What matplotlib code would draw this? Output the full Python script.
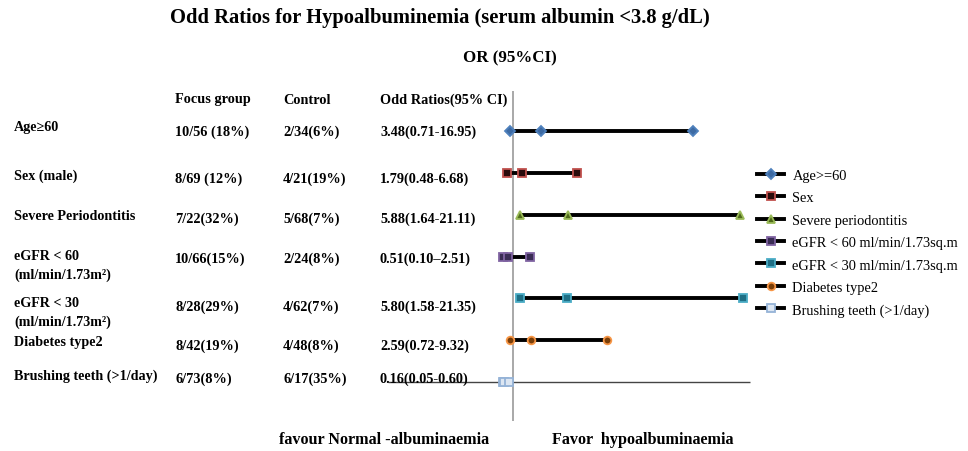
import matplotlib
matplotlib.use('Agg')
import matplotlib.pyplot as plt

# data
factors = ['Age>=60', 'Sex', 'Severe periodontitis', 'eGFR < 60 ml/min/1.73sq.m',
           'eGFR < 30 ml/min/1.73sq.m', 'Diabetes type2', 'Brushing teeth (>1/day)']
row_labels = ['Age\u226560', 'Sex (male)', 'Severe Periodontitis',
              'eGFR < 60\n(ml/min/1.73m\u00b2)', 'eGFR < 30\n(ml/min/1.73m\u00b2)',
              'Diabetes type2', 'Brushing teeth (>1/day)']
focus = ['10/56 (18%)', '8/69 (12%)', '7/22(32%)', '10/66(15%)', '8/28(29%)', '8/42(19%)', '6/73(8%)']
control = ['2/34(6%)', '4/21(19%)', '5/68(7%)', '2/24(8%)', '4/62(7%)', '4/48(8%)', '6/17(35%)']
or_text = ['3.48(0.71-16.95)', '1.79(0.48-6.68)', '5.88(1.64-21.11)', '0.51(0.10\u20132.51)',
           '5.80(1.58-21.35)', '2.59(0.72-9.32)', '0.16(0.05-0.60)']
odds = [3.48, 1.79, 5.88, 0.51, 5.80, 2.59, 0.16]
lower = [0.71, 0.48, 1.64, 0.10, 1.58, 0.72, 0.05]
upper = [16.95, 6.68, 21.11, 2.51, 21.35, 9.32, 0.60]

colors = ['#4F81BD', '#C0504D', '#9BBB59', '#8064A2', '#4BACC6', '#F79646', '#95B3D7']
fills = ['#3d6aa3', '#2a0c0c', '#4f6a1a', '#3b2d55', '#1f6f85', '#7a3e08', '#dce6f2']
markers = ['D', 's', '^', 's', 's', 'o', 's']
msizes = [5, 5.5, 5.5, 5.5, 5.5, 5.5, 5.5]

W, H = 968, 452
fig = plt.figure(figsize=(W / 100, H / 100), dpi=100)
ax = fig.add_axes([0, 0, 1, 1])
# pixel mapping: value 0 at x=502 px, 11.28 px per unit; row 1 at y=383 px, 41.83 px per row
x0, sx = 502, 11.28
y0, sy = 383, 41.83
ax.set_xlim((0 - x0) / sx, (W - x0) / sx)
ax.set_ylim(1 + (y0 - H) / sy, 1 + y0 / sy)
ax.axis('off')

rows = list(range(len(factors), 0, -1))

ax.vlines(1, 1 + (y0 - 422) / sy, 1 + (y0 - 92) / sy, color='#999999', lw=1.2, zorder=1)
ax.hlines(1, (388 - x0) / sx, (750 - x0) / sx, color='#444444', lw=1.0, zorder=1)

handles = []
for i, r in enumerate(rows):
    h, = ax.plot([lower[i], odds[i], upper[i]], [r] * 3, color='black', lw=2.8,
                 marker=markers[i], ms=msizes[i], mfc=fills[i], mec=colors[i], mew=1.3,
                 label=factors[i], zorder=3)
    handles.append(h)

serif = 'Liberation Serif'
fig.legend(handles=handles, loc='upper left', bbox_to_anchor=(757 / W, 1 - 170 / H),
           frameon=False, borderpad=0, borderaxespad=0, handlelength=1.9,
           handletextpad=0.55, labelspacing=0.64,
           prop={'family': serif, 'size': 10.4})


def ft(px, py, s, **kw):
    fig.text(px / W, 1 - py / H, s, family=serif, weight='bold', **kw)


ft(440, 18, 'Odd Ratios for Hypoalbuminemia (serum albumin <3.8 g/dL)', size=14.8,
   ha='center', va='center')
ft(510, 58, 'OR (95%CI)', size=12.2, ha='center', va='center')
ft(175, 100, 'Focus group', size=10.3, va='center')
ft(283, 100, 'Control', size=10.3, va='center')
ft(380, 100, 'Odd Ratios(95% CI)', size=10.3, va='center')

label_y = [128, 176, 216, 266, 313, 343, 376]
value_y = [132, 179, 219, 259, 307, 346, 379]
for i in range(len(factors)):
    ft(14, label_y[i], row_labels[i], size=10.2, va='center', linespacing=1.45)
    ft(175, value_y[i], focus[i], size=10.3, va='center')
    ft(283, value_y[i], control[i], size=10.3, va='center')
    ft(380, value_y[i], or_text[i], size=10.3, va='center')

ft(384, 440, 'favour Normal -albuminaemia', size=11.6, ha='center', va='center')
ft(643, 440, 'Favor  hypoalbuminaemia', size=11.6, ha='center', va='center')

fig.savefig('out.png', dpi=100)
